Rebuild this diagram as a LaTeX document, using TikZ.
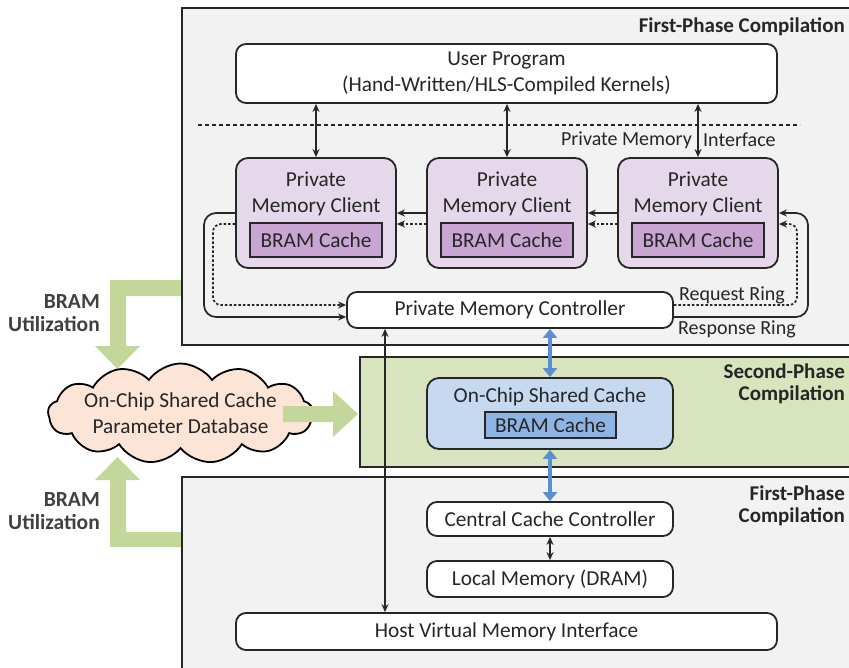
\documentclass[tikz,border=0pt]{standalone}
\usepackage{fontspec}
\setmainfont{Carlito}
\usetikzlibrary{arrows.meta,shapes.symbols}
\definecolor{ink}{HTML}{262626}
\definecolor{labelgray}{HTML}{404040}
\definecolor{phasegray}{HTML}{F2F2F2}
\definecolor{phasegreen}{HTML}{D7E4BD}
\definecolor{arrowgreen}{HTML}{C4D79B}
\definecolor{clientfill}{HTML}{E6D8EB}
\definecolor{clientcache}{HTML}{C8A5D2}
\definecolor{sharedfill}{HTML}{C6D9F1}
\definecolor{sharedcache}{HTML}{8EB4E3}
\definecolor{cloudfill}{HTML}{FCE4D6}
\definecolor{linkblue}{HTML}{5B8FD4}
\begin{document}
\begin{tikzpicture}[x=1pt,y=-1pt,
  txt/.style={text=ink,font=\fontsize{21.3}{26}\selectfont,align=center,inner sep=0pt},
  small/.style={text=ink,font=\fontsize{20}{24}\selectfont,inner sep=0pt},
  phase/.style={text=ink,font=\bfseries\fontsize{21}{22}\selectfont,align=right,inner sep=0pt,anchor=east},
  util/.style={text=labelgray,font=\bfseries\fontsize{21.5}{23}\selectfont,align=right,inner sep=0pt,anchor=east},
  region/.style={draw=ink,line width=1.8pt},
  blk/.style={draw=ink,line width=1.8pt,rounded corners=10pt,fill=white,inner sep=0pt,
    text=ink,font=\fontsize{21.3}{26}\selectfont,align=center},
  client/.style={blk,fill=clientfill,minimum width=160pt,minimum height=110pt,rounded corners=12pt},
  cachebox/.style={draw=ink,line width=1.5pt,inner sep=0pt,text=ink,font=\fontsize{21.3}{26}\selectfont},
  dbl/.style={line width=1.7pt,draw=ink,{Stealth[length=8pt,width=7pt]}-{Stealth[length=8pt,width=7pt]}},
  ring/.style={line width=1.7pt,draw=ink,-{Stealth[length=8pt,width=7pt]},rounded corners=12pt},
  dring/.style={ring,dash pattern=on 2.5pt off 2pt},
  bluelink/.style={line width=4pt,draw=linkblue,{Triangle[length=9pt,width=14pt]}-{Triangle[length=9pt,width=14pt]}},
  bigarrow/.style={fill=arrowgreen,draw=none}]
\useasboundingbox (0,0) rectangle (849,667);

% broad green feedback arrows
\fill[bigarrow] (185,280) -- (110,280) -- (110,346) -- (95,346) -- (117.5,369)
  -- (140,346) -- (126,346) -- (126,296) -- (185,296) -- cycle;
\fill[bigarrow] (185,547) -- (110,547) -- (110,480) -- (95,480) -- (117.5,457)
  -- (140,480) -- (126,480) -- (126,532) -- (185,532) -- cycle;

% compilation regions
\draw[region,fill=phasegray] (182,8) rectangle (860,345);
\draw[region,fill=phasegreen] (360,357) rectangle (860,467);
\draw[region,fill=phasegray] (182,477) rectangle (860,680);

\node[phase] (ph1) at (845,27) {First-Phase Compilation};
\node[phase] (ph2) at (845,383.5) {Second-Phase\\Compilation};
\node[phase] (ph3) at (845,506) {First-Phase\\Compilation};

% user program and interface line
\node[blk,minimum width=541pt,minimum height=59pt] (up) at (506.5,73.5)
  {User Program\\(Hand-Written/HLS-Compiled Kernels)};
\draw[line width=1.7pt,draw=ink,dash pattern=on 4pt off 3pt] (198,125) -- (800,125);
\node[small,anchor=east] (pmi1) at (692,140) {Private Memory};
\node[small,anchor=west] (pmi2) at (703,140) {Interface};

% private memory clients
\foreach \n/\x in {c1/316,c2/507,c3/698}{
  \node[client] (\n) at (\x,213) {};
  \node[txt] (\n t) at (\x,194) {Private\\Memory Client};
  \node[cachebox,fill=clientcache,minimum width=132pt,minimum height=34pt] (\n b) at (\x,240) {BRAM Cache};
  \draw[dbl] (\n.north |- up.south) -- (\n.north);
}

% private memory controller
\node[blk,minimum width=326pt,minimum height=36pt] (ctrl) at (510,310) {Private Memory Controller};

% ring connections between clients
\draw[ring] (c2.west) -- (c1.east);
\draw[dring] ([yshift=-11pt]c2.west) -- ([yshift=-11pt]c1.east);
\draw[ring] (c3.west) -- (c2.east);
\draw[dring] ([yshift=-11pt]c3.west) -- ([yshift=-11pt]c2.east);

\coordinate (rR) at (808,260);
\coordinate (qR) at (797,260);
\coordinate (rL) at (204,260);
\coordinate (qL) at (213,260);
\draw[ring] ([yshift=-7pt]ctrl.east) -| (rR) |- (c3.east);
\draw[dring,rounded corners=8pt] ([yshift=5pt]ctrl.east) -| (qR) |- ([yshift=-11pt]c3.east);
\draw[ring] (c1.west) -| (rL) |- ([yshift=-7pt]ctrl.west);
\draw[dring,rounded corners=8pt] ([yshift=-11pt]c1.west) -| (qL) |- ([yshift=5pt]ctrl.west);
\node[small,anchor=west] (req) at (679,295) {Request Ring};
\node[small,anchor=west] (resp) at (678,329) {Response Ring};

% shared cache
\node[blk,fill=sharedfill,minimum width=246pt,minimum height=71pt,rounded corners=12pt] (shared) at (550,413.5) {};
\node[txt] (sharedt) at (550,397) {On-Chip Shared Cache};
\node[cachebox,fill=sharedcache,minimum width=131pt,minimum height=26pt] (sharedb) at (550.5,425) {BRAM Cache};

% lower hierarchy
\node[blk,minimum width=246pt,minimum height=34pt] (central) at (550,519) {Central Cache Controller};
\node[blk,minimum width=246pt,minimum height=36pt] (local) at (550,579) {Local Memory (DRAM)};
\node[blk,minimum width=541pt,minimum height=37pt] (host) at (506.5,631.5) {Host Virtual Memory Interface};

\draw[bluelink] (ctrl.south -| shared.north) -- (shared.north);
\draw[bluelink] (shared.south) -- (central.north);
\draw[dbl] (central.south) -- (local.north);
\coordinate (hx) at (385,0);
\draw[dbl] (ctrl.south -| hx) -- (host.north -| hx);

% parameter database
\node[cloud,cloud puffs=13,cloud puff arc=110,aspect=2.6,draw=black,line width=1.8pt,
  fill=cloudfill,minimum width=265pt,minimum height=100pt,inner sep=0pt] (db) at (180.5,413.5) {};
\node[txt] (dbt) at (180.5,413) {On-Chip Shared Cache\\Parameter Database};
\fill[bigarrow] (283,406) -- (333,406) -- (333,391) -- (358,414) -- (333,437)
  -- (333,422) -- (283,422) -- cycle;

\node[util] (u1) at (100,313.5) {BRAM\\Utilization};
\node[util] (u2) at (100,511) {BRAM\\Utilization};
\end{tikzpicture}
\end{document}
